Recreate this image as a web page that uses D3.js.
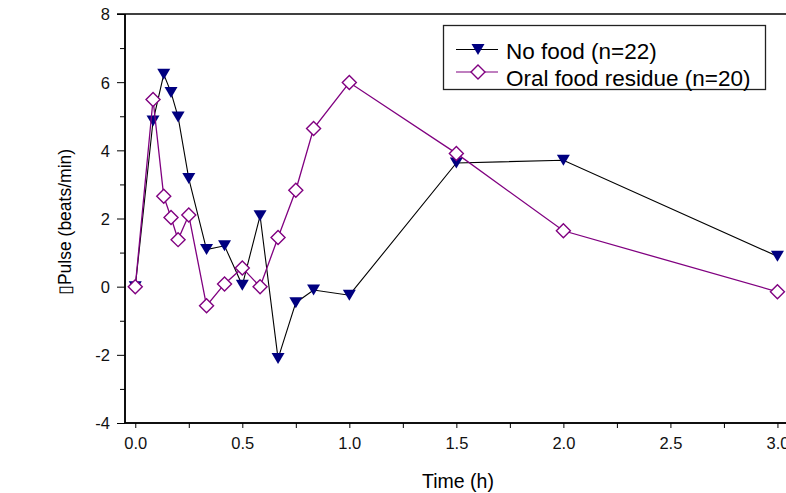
<!DOCTYPE html>
<html>
<head>
<meta charset="utf-8">
<script src="https://cdn.jsdelivr.net/npm/d3@7"></script>
<style>
  body { margin: 0; background: #fff; }
  svg { display: block; font-family: "Liberation Sans", Arial, sans-serif; }
</style>
</head>
<body>
<div id="chart"></div>
<script>
// time points (h)
const times = [0, 0.083, 0.133, 0.167, 0.2, 0.25, 0.333, 0.417, 0.5, 0.583, 0.667, 0.75, 0.833, 1.0, 1.5, 2.0, 3.0];
// change in pulse (beats/min)
const noFood   = [0, 4.86, 6.23, 5.70, 4.98, 3.17, 1.09, 1.20, 0.04, 2.08, -2.11, -0.47, -0.10, -0.25, 3.63, 3.71, 0.89];
const oralFood = [0, 5.49, 2.65, 2.03, 1.38, 2.10, -0.56, 0.08, 0.55, 0.0, 1.44, 2.83, 4.64, 5.99, 3.91, 1.64, -0.15];
const seriesNames = ["No food (n=22)", "Oral food residue (n=20)"];
const yTicks = [-4, -2, 0, 2, 4, 6, 8];
const xTicks = [0, 0.5, 1.0, 1.5, 2.0, 2.5, 3.0];

const width = 786, height = 493;
const plotLeft = 125, plotRight = 786, plotTop = 14, plotBottom = 423;

const svg = d3.select("#chart").append("svg")
  .attr("width", width)
  .attr("height", height);

const x = d3.scaleLinear().domain([-0.048, 3.04]).range([plotLeft, plotRight]);
const y = d3.scaleLinear().domain([-4, 8]).range([plotBottom, plotTop]);

// frame top line
svg.append("line")
  .attr("x1", plotLeft - 8).attr("x2", plotRight)
  .attr("y1", plotTop).attr("y2", plotTop)
  .attr("stroke", "#000").attr("stroke-width", 1.5);

// y axis: major ticks + minor ticks (plain hyphen for negatives)
const yAxis = svg.append("g").attr("transform", "translate(" + plotLeft + ",0)");
yAxis.call(d3.axisLeft(y).tickValues(yTicks).tickSize(8).tickPadding(7).tickFormat(d => String(d)));
yAxis.append("g").call(d3.axisLeft(y).tickValues(d3.range(-3, 8, 2)).tickSize(5).tickFormat(""));
yAxis.selectAll(".domain").attr("stroke-width", 1.5).attr("d", "M0," + plotBottom + "V" + plotTop);

// x axis
const xAxis = svg.append("g").attr("transform", "translate(0," + plotBottom + ")");
xAxis.call(d3.axisBottom(x).tickValues(xTicks).tickSize(5).tickPadding(9).tickFormat(d => d.toFixed(1)));
xAxis.append("g").call(d3.axisBottom(x).tickValues(d3.range(0.25, 3, 0.5)).tickSize(5).tickFormat(""));
xAxis.selectAll(".domain").attr("stroke-width", 1.5).attr("d", "M" + plotLeft + ",0H" + plotRight);

svg.selectAll(".tick text").style("font-size", "16.5px").attr("fill", "#111");
yAxis.selectAll(".tick text").attr("dy", "0.36em");

// axis titles
svg.append("text")
  .attr("x", 458).attr("y", 488)
  .attr("text-anchor", "middle")
  .style("font-size", "19.5px")
  .text("Time (h)");

svg.append("text")
  .attr("transform", "translate(71,222) rotate(-90)")
  .attr("text-anchor", "middle")
  .style("font-size", "17.5px")
  .text("\u25AFPulse (beats/min)");

const tri = "M-6.5,-5.5L6.5,-5.5L0,5.5Z";
const dia = "M0,-7L7,0L0,7L-7,0Z";

const line = d3.line()
  .x(d => x(d[0]))
  .y(d => y(d[1]));

const nfData = times.map((t, i) => [t, noFood[i]]);
const ofData = times.map((t, i) => [t, oralFood[i]]);

// No food series
svg.append("path").datum(nfData)
  .attr("d", line).attr("fill", "none")
  .attr("stroke", "#000").attr("stroke-width", 1.1);
svg.selectAll(".nf").data(nfData).enter().append("path")
  .attr("class", "nf")
  .attr("d", tri)
  .attr("transform", d => "translate(" + x(d[0]) + "," + y(d[1]) + ")")
  .attr("fill", "#000080");

// Oral food residue series
svg.append("path").datum(ofData)
  .attr("d", line).attr("fill", "none")
  .attr("stroke", "#800080").attr("stroke-width", 1.3);
svg.selectAll(".of").data(ofData).enter().append("path")
  .attr("class", "of")
  .attr("d", dia)
  .attr("transform", d => "translate(" + x(d[0]) + "," + y(d[1]) + ")")
  .attr("fill", "#fff")
  .attr("stroke", "#800080").attr("stroke-width", 1.4);

// legend
const legend = svg.append("g");
legend.append("rect")
  .attr("x", 443.5).attr("y", 25.5).attr("width", 322).attr("height", 64)
  .attr("fill", "#fff").attr("stroke", "#222").attr("stroke-width", 1.3);

const legRows = [
  { name: seriesNames[0], my: 49.5, ty: 59, color: "#000", mark: tri, fill: "#000080", stroke: "none" },
  { name: seriesNames[1], my: 72, ty: 85.5, color: "#800080", mark: dia, fill: "#fff", stroke: "#800080" }
];
legRows.forEach(r => {
  legend.append("line")
    .attr("x1", 456).attr("x2", 498).attr("y1", r.my).attr("y2", r.my)
    .attr("stroke", r.color).attr("stroke-width", 1.2);
  legend.append("path")
    .attr("d", r.mark)
    .attr("transform", "translate(478," + r.my + ")")
    .attr("fill", r.fill).attr("stroke", r.stroke).attr("stroke-width", 1.4);
  legend.append("text")
    .attr("x", 506).attr("y", r.ty)
    .style("font-size", "22.5px")
    .text(r.name);
});
</script>
</body>
</html>
